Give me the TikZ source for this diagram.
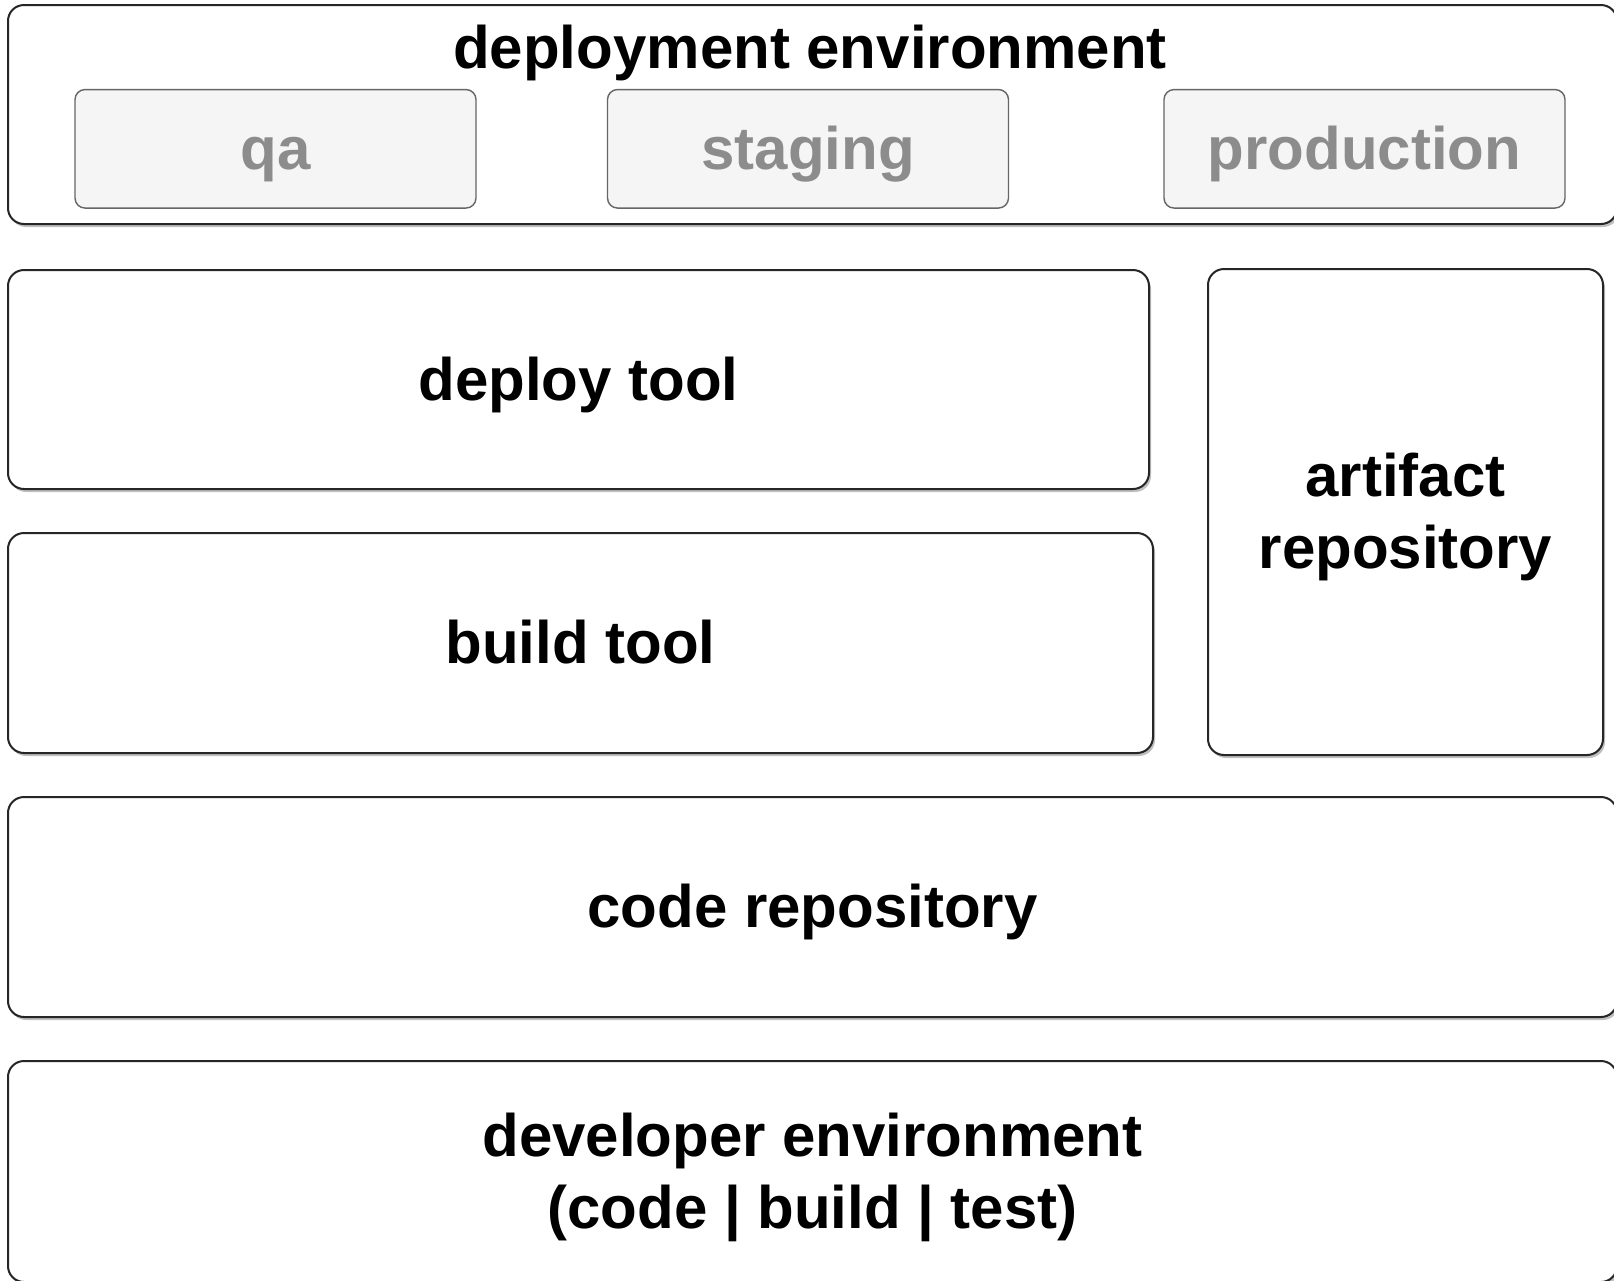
\documentclass[tikz,border=0pt]{standalone}
\usepackage{fontspec}
\setmainfont{Liberation Sans}
\usetikzlibrary{shadows}
\definecolor{envfill}{HTML}{F5F5F5}
\definecolor{envline}{HTML}{666666}
\definecolor{envtext}{HTML}{8C8C8C}
\tikzset{
  layer/.style={draw=black!85, line width=1pt, fill=white, rounded corners=8pt,
    drop shadow={shadow xshift=1pt, shadow yshift=-1.5pt, fill=black!25, opacity=1},
    inner sep=0pt, align=center},
  stage/.style={draw=envline, line width=0.7pt, fill=envfill, rounded corners=5pt,
    text=envtext, minimum width=200.5pt, minimum height=59.25pt, inner sep=0pt},
  label/.style={align=center},
  oneline/.style={text height=28.35pt, text depth=7.65pt},
  twolines/.style={text height=64.35pt, text depth=7.65pt}
}

\begin{document}
\begin{tikzpicture}[x=1pt, y=1pt, every node/.append style={font=\fontsize{30}{36}\selectfont\bfseries, oneline}]
  \useasboundingbox (0,0) rectangle (807,-640.5);

  %========================
  % Top: deployment environment
  %========================
  \node[layer, minimum width=804.5pt, minimum height=109.5pt] (depenv) at (406.25,-57.25) {};
  \node[label] (depenvtitle) at (405,-24) {deployment environment};
  \node[stage] (qa) at (137.75,-74.4) {qa};
  \node[stage] (staging) at (404,-74.4) {staging};
  \node[stage] (production) at (682.25,-74.4) {production};

  %========================
  % Middle: tools and artifacts
  %========================
  \node[layer, minimum width=570.5pt, minimum height=109.5pt] (deploytool) at (289.25,-189.75) {deploy tool};
  \node[layer, minimum width=572.5pt, minimum height=110pt] (buildtool) at (290.25,-321.5) {build tool};
  \node[layer, twolines, minimum width=197.5pt, minimum height=243pt] (artifactrepo) at (702.75,-256) {artifact\\repository};

  %========================
  % Bottom: code and developer
  %========================
  \node[layer, minimum width=804.5pt, minimum height=110pt] (coderepo) at (406.25,-453.5) {code repository};
  \node[layer, twolines, minimum width=804.5pt, minimum height=110.5pt] (devenv) at (406.25,-585.75) {developer environment\\(code | build | test)};

\end{tikzpicture}
\end{document}
